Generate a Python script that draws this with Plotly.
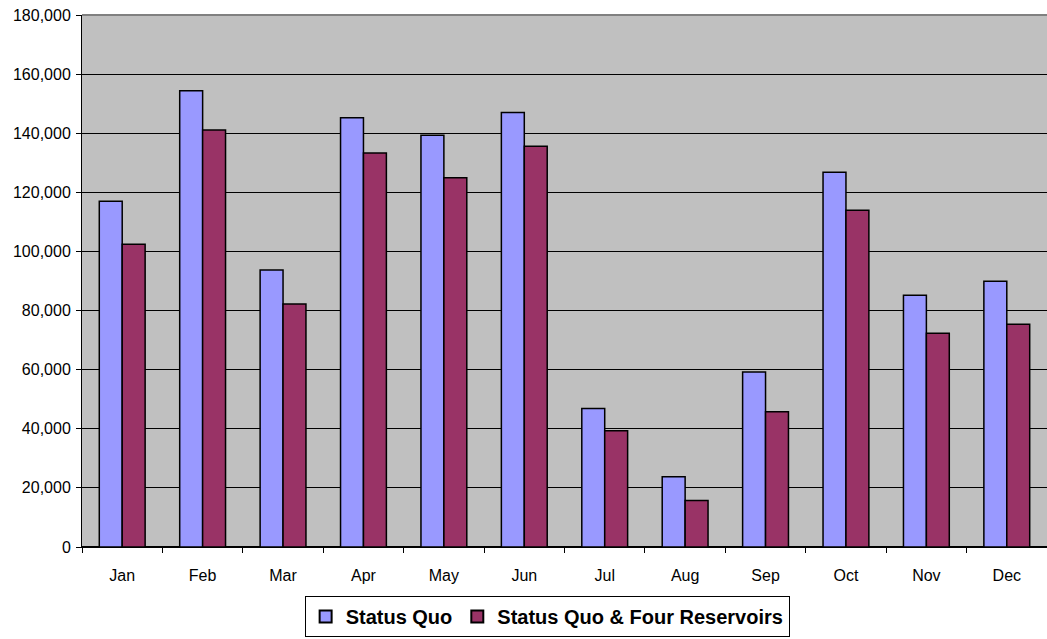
import plotly.graph_objects as go

months = ["Jan", "Feb", "Mar", "Apr", "May", "Jun",
          "Jul", "Aug", "Sep", "Oct", "Nov", "Dec"]
status_quo = [117000, 154400, 93700, 145200, 139300, 147000,
              46900, 23800, 59200, 126800, 85200, 89900]
four_reservoirs = [102400, 141100, 82200, 133300, 124900, 135600,
                   39300, 15700, 45800, 113900, 72300, 75400]
y_ticks = [0, 20000, 40000, 60000, 80000, 100000, 120000, 140000, 160000, 180000]

font_family = "Liberation Sans, Arial, sans-serif"

fig = go.Figure()
fig.add_trace(go.Bar(
    x=months, y=status_quo, name="Status Quo",
    marker=dict(color="#9999FF", line=dict(color="black", width=1.5)),
))
fig.add_trace(go.Bar(
    x=months, y=four_reservoirs, name="Status Quo & Four Reservoirs",
    marker=dict(color="#993366", line=dict(color="black", width=1.5)),
))

fig.update_layout(
    width=1047, height=639,
    margin=dict(l=82, r=0, t=15, b=92, pad=0),
    paper_bgcolor="white",
    plot_bgcolor="#C0C0C0",
    barmode="group",
    bargap=0.43,
    bargroupgap=0,
    font=dict(family=font_family, color="black", size=16),
    showlegend=True,
    legend=dict(
        orientation="h",
        x=0.482, xanchor="center",
        y=-0.092, yanchor="top",
        bordercolor="black", borderwidth=1,
        bgcolor="white",
        font=dict(family=font_family, size=20, color="black", weight="bold"),
        itemsizing="constant",
        traceorder="normal",
        itemwidth=30,
    ),
    xaxis=dict(
        type="category",
        tickson="boundaries",
        ticks="outside", ticklen=5, tickcolor="black", tickwidth=1,
        showline=True, linecolor="black", linewidth=1,
        showgrid=False,
        tickfont=dict(size=16),
        ticklabelstandoff=14,
    ),
    yaxis=dict(
        range=[0, 180000],
        tickvals=y_ticks,
        tickformat=",d",
        ticks="outside", ticklen=5, tickcolor="black", tickwidth=1,
        showline=True, linecolor="black", linewidth=1,
        showgrid=True, gridcolor="black", gridwidth=1,
        zeroline=True, zerolinecolor="black",
        tickfont=dict(size=16),
        ticklabelstandoff=2,
    ),
    shapes=[dict(
        type="line", xref="paper", yref="paper",
        x0=0, x1=1, y0=1, y1=1,
        line=dict(color="#808080", width=2),
        layer="above",
    )],
)

fig.write_html("out.html")
